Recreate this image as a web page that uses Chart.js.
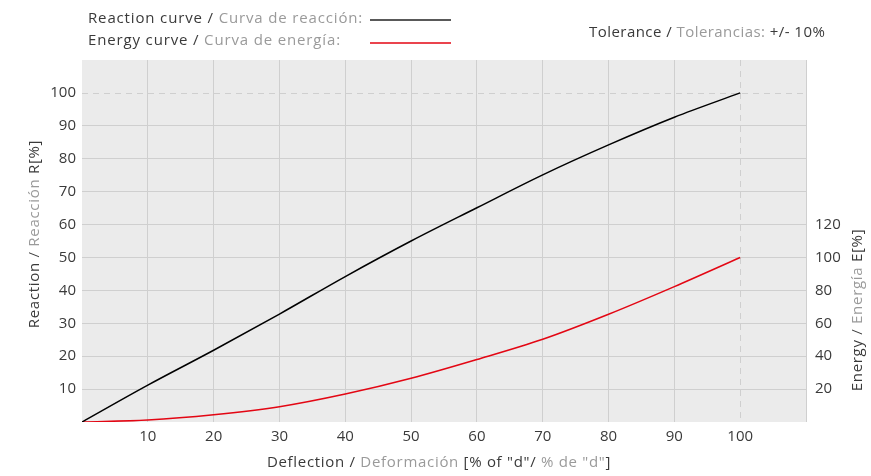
<!DOCTYPE html>
<html>
<head>
<meta charset="utf-8">
<script src="https://cdn.jsdelivr.net/npm/chart.js@4.4.1/dist/chart.umd.min.js"></script>
<style>
	html, body { margin: 0; padding: 0; background: #fff; }
	#cadre { width: 871px; height: 476px; }
</style>
</head>
<body>
<div id="cadre"><canvas id="graphique-courbes"></canvas></div>
<script>
// Valeurs de la courbe (déformation en % de "d")
const deflection = [0, 10, 20, 30, 40, 50, 60, 70, 80, 90, 100];
const reaction = [0, 11.2, 21.8, 32.8, 44.2, 55, 65.1, 75.1, 84.2, 92.6, 100];
const energy = [0, 1.2, 4.4, 9.3, 17, 26.6, 38, 50.3, 65.5, 82.3, 100];

// Graduations affichées
const xTicks = [10, 20, 30, 40, 50, 60, 70, 80, 90, 100];
const reactionTicks = [10, 20, 30, 40, 50, 60, 70, 80, 90, 100];
const energyTicks = [20, 40, 60, 80, 100, 120];

const sombre = "#3a3a3a";
const clair = "#9a9a9a";
const police = "'Open Sans', sans-serif";

Chart.defaults.font.family = police;
Chart.defaults.font.size = 15;
Chart.defaults.color = sombre;

// Ecrit un texte en plusieurs morceaux de couleurs différentes
function ecrire(ctx, morceaux, x, y, align, espace) {
	ctx.font = "15px " + police;
	ctx.letterSpacing = espace || "0.7px";
	ctx.textBaseline = "middle";
	ctx.textAlign = "left";
	let total = 0;
	for (let m of morceaux) total += ctx.measureText(m[0]).width;
	let depart = x;
	if (align === "center") depart = x - total / 2;
	if (align === "right") depart = x - total;
	for (let m of morceaux) {
		ctx.fillStyle = m[1];
		ctx.fillText(m[0], depart, y);
		depart += ctx.measureText(m[0]).width;
	}
	ctx.letterSpacing = "0px";
}

// Fond gris de la zone de tracé + lignes pointillées à 100
const fondEtRepères = {
	id: "fondEtReperes",
	beforeDraw(chart) {
		const { ctx, chartArea } = chart;
		ctx.save();
		ctx.fillStyle = "#ebebeb";
		ctx.fillRect(chartArea.left, chartArea.top, chartArea.right - chartArea.left, chartArea.bottom - chartArea.top);
		ctx.restore();
	},
	beforeDatasetsDraw(chart) {
		const { ctx, chartArea, scales } = chart;
		const x100 = Math.round(scales.x.getPixelForValue(100)) + 0.5;
		const y100 = Math.round(scales.y.getPixelForValue(100)) + 0.5;
		ctx.save();
		ctx.strokeStyle = "#cfcfcf";
		ctx.lineWidth = 1;
		ctx.setLineDash([6, 5]);
		ctx.beginPath();
		ctx.moveTo(chartArea.left, y100);
		ctx.lineTo(chartArea.right, y100);
		ctx.moveTo(x100, chartArea.top);
		ctx.lineTo(x100, chartArea.bottom);
		ctx.stroke();
		ctx.restore();
	},
	afterDraw(chart) {
		const ctx = chart.ctx;
		ctx.save();

		// légende en haut
		ecrire(ctx, [["Reaction curve / ", sombre], ["Curva de reacción:", clair]], 88, 19, "left", "0.85px");
		ecrire(ctx, [["Energy curve / ", sombre], ["Curva de energía:", clair]], 88, 41, "left", "0.85px");
		ctx.lineWidth = 1.5;
		ctx.strokeStyle = "#222";
		ctx.beginPath();
		ctx.moveTo(370, 20);
		ctx.lineTo(451, 20);
		ctx.stroke();
		ctx.strokeStyle = "#e30613";
		ctx.beginPath();
		ctx.moveTo(370, 43);
		ctx.lineTo(451, 43);
		ctx.stroke();

		ecrire(ctx, [["Tolerance / ", sombre], ["Tolerancias: ", clair], ["+/- 10%", sombre]], 589, 33, "left", "0.45px");

		// titres des axes
		ecrire(ctx, [["Deflection / ", sombre], ["Deformación ", clair], ["[% of \"d\"/ ", sombre], ["% de \"d\"", clair], ["]", sombre]], 439, 463, "center");

		ctx.save();
		ctx.translate(35, 234);
		ctx.rotate(-Math.PI / 2);
		ecrire(ctx, [["Reaction / ", sombre], ["Reacción ", clair], ["R[%]", sombre]], 0, 0, "center");
		ctx.restore();

		ctx.save();
		ctx.translate(858, 310);
		ctx.rotate(-Math.PI / 2);
		ecrire(ctx, [["Energy / ", sombre], ["Energía ", clair], ["E[%]", sombre]], 0, 0, "center");
		ctx.restore();

		ctx.restore();
	}
};

function couleurGrille(context) {
	const v = context.tick ? context.tick.value : null;
	if (v === 0 || v === 100) return "rgba(0,0,0,0)";
	if (context.scale.axis === "y" && v === 110) return "rgba(0,0,0,0)";
	return "#cfcfcf";
}

const config = {
	type: "line",
	data: {
		labels: deflection,
		datasets: [{
			label: "Reaction curve",
			data: deflection.map((d, i) => ({ x: d, y: reaction[i] })),
			borderColor: "#000",
			borderWidth: 1.5,
			pointRadius: 0,
			cubicInterpolationMode: "monotone",
			yAxisID: "y",
		}, {
			label: "Energy curve",
			data: deflection.map((d, i) => ({ x: d, y: energy[i] })),
			borderColor: "#e30613",
			borderWidth: 1.5,
			pointRadius: 0,
			cubicInterpolationMode: "monotone",
			yAxisID: "y2",
		}],
	},
	options: {
		responsive: true,
		maintainAspectRatio: false,
		animation: false,
		layout: { padding: { top: 60, left: 0, right: 0, bottom: 0 } },
		plugins: {
			legend: { display: false },
			tooltip: { enabled: false },
		},
		scales: {
			x: {
				type: "linear",
				min: 0,
				max: 110,
				border: { display: false },
				grid: { color: couleurGrille, drawTicks: false },
				ticks: {
					stepSize: 10,
					padding: 6,
					maxRotation: 0,
					callback: v => xTicks.includes(v) ? v : "",
				},
				afterFit: s => { s.height = 54; },
			},
			y: {
				position: "left",
				min: 0,
				max: 110,
				border: { display: false },
				grid: { color: couleurGrille, drawTicks: false },
				ticks: {
					stepSize: 10,
					padding: 6,
					callback: v => reactionTicks.includes(v) ? v : "",
				},
				afterFit: s => { s.width = 82; },
			},
			y2: {
				position: "right",
				min: 0,
				max: 220,
				border: { display: false },
				grid: { display: false, drawTicks: false },
				ticks: {
					stepSize: 20,
					padding: 9,
					callback: v => energyTicks.includes(v) ? v : "",
				},
				afterFit: s => { s.width = 65; },
			},
		},
	},
	plugins: [fondEtRepères],
};

const graphique = new Chart(document.querySelector("#graphique-courbes"), config);
</script>
</body>
</html>
